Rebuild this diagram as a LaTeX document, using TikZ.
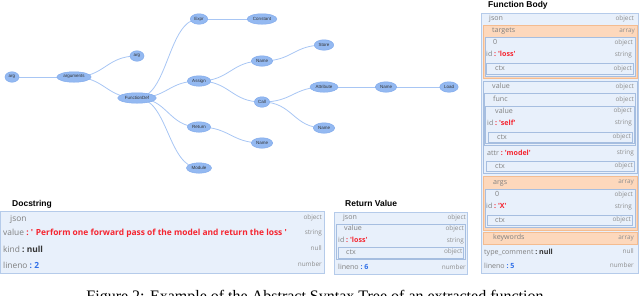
\documentclass[tikz,border=0pt]{standalone}
\usepackage{fontspec}
\usetikzlibrary{shapes.geometric}
\newfontfamily\pf{Open Sans}
\newfontfamily\tf{Liberation Sans}
\newfontfamily\cf{Liberation Serif}
\definecolor{panelfill}{HTML}{E8F0FB}
\definecolor{panelborder}{HTML}{B5CBEA}
\definecolor{innerborder}{HTML}{A6BEE0}
\definecolor{orgfill}{HTML}{FDD8BC}
\definecolor{orgborder}{HTML}{F4BC90}
\definecolor{keygray}{HTML}{7F7F7F}
\definecolor{typegray}{HTML}{8E8E8E}
\definecolor{strred}{HTML}{F52530}
\definecolor{nullc}{HTML}{333333}
\definecolor{numblue}{HTML}{2F6FE8}
\definecolor{treefill}{HTML}{94B9F1}
\definecolor{treedraw}{HTML}{82ABEC}
\definecolor{treeedge}{HTML}{A8C6F4}
\pgfdeclarelayer{background}
\pgfsetlayers{background,main}
\newcommand\qs{\textquotesingle}
\newcommand\sval[1]{\textcolor{strred}{\bfseries\ :\ #1}}
\newcommand\nval{\textcolor{nullc}{\bfseries\ :\ null}}
\newcommand\numval[1]{\textcolor{numblue}{\bfseries\ :\ #1}}
\newcommand\kt[4]{\node[keyt] (#1) at (#2,{#3+1.9}) {#4};}
\newcommand\kd[4]{\node[keyd] (#1) at (#2,{#3+2.3}) {#4};}
\newcommand\ty[4]{\node[typet] (#1) at (#2,{#3+1.8}) {#4};}
\tikzset{
  tn/.style={ellipse, fill=treefill, draw=treedraw, line width=0.5pt,
    inner xsep=1.5pt, inner ysep=0.8pt, minimum height=10.5pt, minimum width=14pt,
    font=\tf\fontsize{4.5}{5}\selectfont, text=nullc},
  tedge/.style={draw=treeedge, line width=0.8pt},
  diag/.style={to path={.. controls +(31,0) and +(-31,0) .. (\tikztotarget)}},
  keyt/.style={anchor=base west, inner sep=0, text=keygray, font=\pf\fontsize{7.1}{8}\selectfont},
  keyd/.style={anchor=base west, inner sep=0, text=keygray, font=\pf\fontsize{8.4}{10}\selectfont},
  typet/.style={anchor=base east, inner sep=0, text=typegray, font=\pf\fontsize{6.4}{7}\selectfont},
  ttl/.style={anchor=base west, inner sep=0, font=\tf\bfseries\fontsize{8.5}{10}\selectfont, text=black},
  pbox/.style={draw=panelborder, fill=panelfill, line width=0.8pt},
  ibox/.style={draw=innerborder, fill=panelfill, line width=0.7pt},
  obox/.style={draw=orgborder, fill=orgfill, line width=0.7pt},
}
\begin{document}
\begin{tikzpicture}[x=1pt,y=-1pt]
\useasboundingbox (0,0) rectangle (640,295);
% ---------------- tree ----------------
\node[tn] (arg0) at (12,77) {arg};
\node[tn] (args) at (74,77) {arguments};
\node[tn] (arg1) at (137,56) {arg};
\node[tn] (fdef) at (137,98) {FunctionDef};
\node[tn] (expr) at (199,19) {Expr};
\node[tn] (assign) at (199,81) {Assign};
\node[tn] (ret) at (199,127) {Return};
\node[tn] (mod) at (199,168) {Module};
\node[tn] (const) at (262,19) {Constant};
\node[tn] (name1) at (262,61) {Name};
\node[tn] (call) at (262,102) {Call};
\node[tn] (name2) at (262,143) {Name};
\node[tn] (store) at (324,45) {Store};
\node[tn] (attr) at (324,87) {Attribute};
\node[tn] (name3) at (324,128) {Name};
\node[tn] (name4) at (386,87) {Name};
\node[tn] (load) at (449,87) {Load};
\begin{pgfonlayer}{background}
\foreach \a/\b in {arg0/args, args/arg1, args/fdef, fdef/expr, fdef/assign, fdef/ret, fdef/mod,
  expr/const, assign/name1, assign/call, ret/name2, name1/store, call/attr, call/name3,
  attr/name4, name4/load}
  \draw[tedge] (\a.center) to[diag] (\b.center);
\end{pgfonlayer}
% ---------------- Docstring ----------------
\node[ttl] (dtitle) at (12,206) {Docstring};
\draw[pbox] (0.5,211) rectangle (324,273);
\kd{dj}{10}{219}{json}
\kd{dv}{3}{233}{value\sval{\qs{} Perform one forward pass of the model and return the loss \qs}}
\kd{dk}{3}{250}{kind\nval}
\kd{dl}{3}{266}{lineno\numval{2}}
\ty{dt1}{322}{218}{object}
\ty{dt2}{322}{233}{string}
\ty{dt3}{322}{249}{null}
\ty{dt4}{322}{265}{number}
% ---------------- Return Value ----------------
\node[ttl] (rtitle) at (345,206) {Return Value};
\draw[pbox] (334,212) rectangle (467,274);
\draw[ibox] (336,224) rectangle (465,259);
\draw[ibox] (338,247) rectangle (463.5,258);
\kt{rj}{343}{218}{json}
\kt{rv}{344}{229}{value}
\kt{ri}{338}{241}{id\sval{\qs loss\qs}}
\kt{rc}{346}{252.5}{ctx}
\kt{rl}{338}{268}{lineno\numval{6}}
\ty{rt1}{466}{218}{object}
\ty{rt2}{464}{229}{object}
\ty{rt3}{464}{241}{string}
\ty{rt4}{462.5}{252}{object}
\ty{rt5}{466}{268}{number}
% ---------------- Function Body ----------------
\node[ttl] (ftitle) at (488,7.5) {Function Body};
\draw[pbox] (481,13) rectangle (638,273);
% targets
\draw[obox] (483,25) rectangle (637,78);
\draw[ibox] (485,37) rectangle (635,76);
\draw[ibox] (486.5,63) rectangle (633.5,74);
% value
\draw[ibox] (483,81) rectangle (637,173);
\draw[ibox] (484,93.5) rectangle (635.5,145);
\draw[ibox] (485.5,106.5) rectangle (634,143);
\draw[ibox] (488,132) rectangle (632.5,142);
\draw[ibox] (486,161) rectangle (634.5,171);
% args
\draw[obox] (483.5,176) rectangle (637,230);
\draw[ibox] (485,189.5) rectangle (635,227.5);
\draw[ibox] (487,215) rectangle (632.5,225.5);
% keywords
\draw[obox] (483.5,232) rectangle (637,244);
\kt{fj}{489}{19}{json}
\kt{ft}{492}{31}{targets}
\kt{f0}{493}{43}{0}
\kt{fi}{486}{55}{id\sval{\qs loss\qs}}
\kt{fc}{495}{69}{ctx}
\kt{fv}{492}{87}{value}
\kt{ff}{493}{100}{func}
\kt{fv2}{495}{112}{value}
\kt{fi2}{487}{124}{id\sval{\qs self\qs}}
\kt{fc2}{497}{137.5}{ctx}
\kt{fa}{487}{154}{attr\sval{\qs model\qs}}
\kt{fc3}{495}{166.5}{ctx}
\kt{fg}{493}{183}{args}
\kt{fg0}{495}{195}{0}
\kt{fgi}{486}{207}{id\sval{\qs X\qs}}
\kt{fgc}{495}{220.5}{ctx}
\kt{fk}{493}{238}{keywords}
\kt{fy}{484}{253}{type\_comment\nval}
\kt{fl}{484}{267}{lineno\numval{5}}
\ty{ft1}{634}{19}{object}
\ty{ft2}{635}{31}{array}
\ty{ft3}{633}{43}{object}
\ty{ft4}{632}{55}{string}
\ty{ft5}{632}{68.5}{object}
\ty{ft6}{634}{87}{object}
\ty{ft7}{634}{99.5}{object}
\ty{ft8}{632}{111}{object}
\ty{ft9}{632}{123}{string}
\ty{ft10}{631}{137}{object}
\ty{ft11}{634}{153}{string}
\ty{ft12}{633}{166}{object}
\ty{ft13}{634}{182}{array}
\ty{ft14}{633}{194.5}{object}
\ty{ft15}{632}{206.5}{string}
\ty{ft16}{631}{220}{object}
\ty{ft17}{634}{237.5}{array}
\ty{ft18}{634}{252}{null}
\ty{ft19}{634}{266}{number}
% ---------------- caption ----------------
\node[anchor=base, inner sep=0, font=\cf\fontsize{16}{18}\selectfont] (cap) at (315,301)
  {Figure 2: Example of the Abstract Syntax Tree of an extracted function};
\end{tikzpicture}
\end{document}
